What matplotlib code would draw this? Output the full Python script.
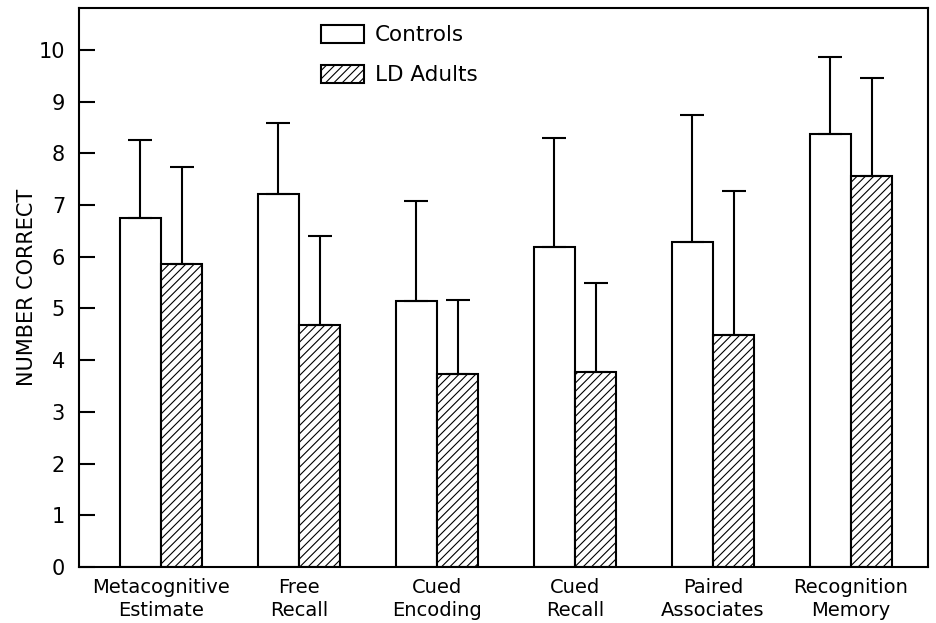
import matplotlib
matplotlib.use("Agg")
import matplotlib.pyplot as plt
import numpy as np

categories = ["Metacognitive\nEstimate", "Free\nRecall", "Cued\nEncoding",
              "Cued\nRecall", "Paired\nAssociates", "Recognition\nMemory"]
controls_mean = [6.74, 7.22, 5.15, 6.19, 6.28, 8.38]
controls_err = [1.52, 1.36, 1.93, 2.11, 2.47, 1.48]
ld_mean = [5.85, 4.67, 3.73, 3.78, 4.48, 7.56]
ld_err = [1.89, 1.73, 1.44, 1.72, 2.80, 1.89]
yticks = [0, 1, 2, 3, 4, 5, 6, 7, 8, 9, 10]

plt.rcParams['font.family'] = ['DejaVu Sans']
plt.rcParams['hatch.linewidth'] = 0.8
plt.rcParams['hatch.color'] = 'black'

fig = plt.figure(figsize=(9.36, 6.23), dpi=100)
ax = fig.add_axes([0.0844, 0.0899, 0.9915 - 0.0844, 0.9872 - 0.0899])

x = np.arange(len(categories))
w = 0.30
lw = 1.5

ax.bar(x - w / 2, controls_mean, width=w, color='white', edgecolor='black',
       linewidth=lw, label='Controls', zorder=2)
ax.bar(x + w / 2, ld_mean, width=w, color='white', edgecolor='black',
       linewidth=lw, hatch='////', label='LD Adults', zorder=2)

ax.errorbar(x - w / 2, controls_mean, yerr=[np.zeros(len(x)), controls_err],
            fmt='none', ecolor='black', elinewidth=lw, capsize=8.3,
            capthick=lw, zorder=3)
ax.errorbar(x + w / 2, ld_mean, yerr=[np.zeros(len(x)), ld_err],
            fmt='none', ecolor='black', elinewidth=lw, capsize=8.3,
            capthick=lw, zorder=3)

ax.set_xlim(-0.594, 5.558)
ax.set_ylim(0, 10.81)
ax.set_yticks(yticks)
ax.set_yticklabels([str(t) for t in yticks])
ax.set_xticks(x)
ax.set_xticklabels(categories, fontsize=14, linespacing=1.25)
ax.tick_params(axis='x', length=0, pad=8)
ax.tick_params(axis='y', direction='in', length=11.5, width=lw,
               labelsize=15, pad=10)
for s in ax.spines.values():
    s.set_linewidth(lw)

ax.set_ylabel("NUMBER CORRECT", fontsize=15, labelpad=1)

leg = ax.legend(loc='upper left', bbox_to_anchor=(0.285, 0.970),
                frameon=False, fontsize=15.5, handlelength=2.0,
                handleheight=0.95, handletextpad=0.5, labelspacing=0.9,
                borderpad=0, borderaxespad=0)

fig.savefig("out.png", dpi=100)
